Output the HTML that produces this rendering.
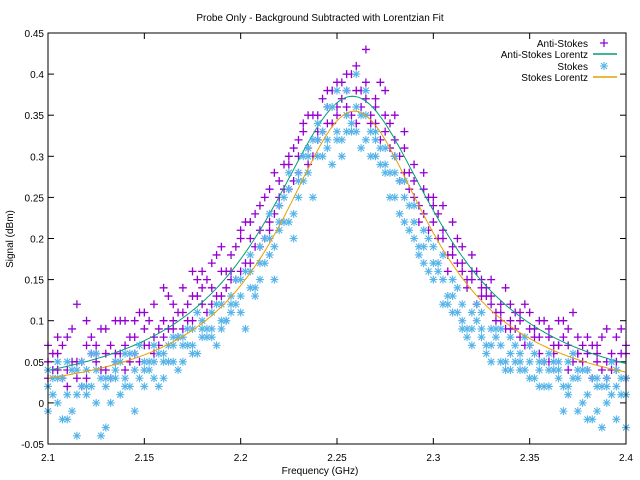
<!DOCTYPE html>
<html><head><meta charset="utf-8"><style>
body{margin:0;background:#fff}
svg{display:block;font-family:"Liberation Sans",sans-serif}
</style></head><body>
<svg id="chart" width="640" height="480" viewBox="0 0 640 480">
<text x="320" y="21" font-size="10" text-anchor="middle">Probe Only - Background Subtracted with Lorentzian Fit</text>
<text x="320" y="474" font-size="10" text-anchor="middle">Frequency (GHz)</text>
<text x="13" y="239" font-size="10" text-anchor="middle" transform="rotate(-90 13 239)">Signal (dBm)</text>
<g id="grid"></g>
<g id="marks"></g>
<rect x="48" y="33" width="578" height="411" fill="none" stroke="#000" stroke-width="1"/>
<g id="legend"></g>
</svg>
<script>
const xStart = 2.1, xStep = 0.005, xHalf = 0.0025;
const xTicks = [2.1,2.15,2.2,2.25,2.3,2.35,2.4];
const xTickLabels = ["2.1","2.15","2.2","2.25","2.3","2.35","2.4"];
const yTicks = [-0.05,0,0.05,0.1,0.15,0.2,0.25,0.3,0.35,0.4,0.45];
const yTickLabels = ["-0.05","0","0.05","0.1","0.15","0.2","0.25","0.3","0.35","0.4","0.45"];
const antiA = [.05,.08,.04,.12,.07,.05,.09,.06,.10,.08,.09,.12,.10,.09,.14,.13,.16,.12,.16,.18,.20,.17,.24,.22,.27,.30,.28,.35,.32,.38,.36,.40,.38,.43,.37,.33,.35,.31,.27,.26,.22,.24,.19,.17,.18,.15,.13,.12,.10,.11,.09,.10,.08,.07,.09,.06,.08,.06,.09,.05,.07];
const antiB = [.03,.04,.02,.05,.03,.06,.04,.05,.04,.06,.07,.06,.08,.10,.09,.10,.12,.14,.13,.15,.16,.20,.19,.21,.25,.26,.30,.29,.33,.34,.35,.36,.34,.37,.34,.35,.30,.28,.25,.23,.24,.20,.18,.16,.15,.13,.12,.11,.09,.08,.07,.06,.05,.07,.04,.06,.04,.05,.03,.04,.03];
const antiC = [.07,.06,.08,.03,.10,.07,.06,.10,.07,.10,.11,.08,.14,.12,.11,.16,.14,.17,.19,.16,.21,.22,.21,.26,.24,.29,.32,.31,.35,.36,.39,.38,.41,.39,.36,.38,.32,.33,.29,.28,.25,.21,.22,.19,.16,.14,.15,.10,.12,.10,.11,.08,.09,.10,.07,.08,.06,.07,.05,.08,.06];
const antiD = [.06,.03,.09,.05,.08,.04,.07,.10,.05,.11,.07,.09,.13,.08,.12,.15,.11,.18,.14,.19,.17,.23,.20,.28,.26,.31,.33,.30,.37,.34,.39,.35,.38,.34,.39,.31,.30,.28,.24,.21,.23,.18,.20,.14,.16,.13,.11,.14,.09,.12,.08,.10,.06,.08,.11,.05,.07,.04,.06,.09];
const antiE = [.04,.07,.05,.02,.06,.09,.03,.06,.08,.05,.10,.07,.09,.11,.10,.13,.15,.13,.16,.15,.22,.19,.25,.23,.29,.27,.34,.35,.33,.38,.37,.40,.36,.35,.32,.34,.27,.26,.22,.25,.20,.16,.17,.15,.12,.14,.10,.09,.11,.07,.09,.05,.07,.10,.05,.07,.03,.08,.04,.06];
const stokesA = [.04,.00,.05,-.04,.02,.06,.03,.05,.02,.06,.04,.07,.05,.08,.07,.09,.10,.09,.12,.13,.15,.16,.19,.20,.24,.26,.28,.31,.32,.36,.33,.38,.40,.35,.32,.31,.28,.25,.22,.19,.17,.15,.13,.10,.09,.11,.07,.09,.06,.05,.07,.04,.06,.03,.05,-.01,.04,.02,.03,-.02,.01];
const stokesB = [-.01,.03,-.02,.01,.04,.00,.02,.04,.03,-.01,.05,.03,.06,.05,.08,.07,.08,.11,.10,.11,.13,.14,.17,.18,.21,.22,.27,.28,.30,.32,.32,.35,.33,.32,.30,.28,.25,.22,.20,.17,.15,.12,.11,.12,.07,.09,.05,.07,.04,.06,.03,.05,.02,.04,.01,.03,-.02,.03,.00,.02,.03];
const stokesC = [.02,.05,.01,.04,.01,.04,-.03,.03,.06,.04,.02,.05,.03,.07,.05,.06,.09,.08,.09,.12,.11,.18,.15,.23,.22,.28,.25,.30,.34,.31,.38,.33,.36,.38,.33,.29,.30,.27,.24,.21,.19,.18,.15,.09,.11,.08,.09,.05,.08,.04,.05,.02,.04,.05,.02,.04,.01,-.01,.02,.04,-.03];
const stokesD = [.01,.03,-.01,.05,.02,-.04,.03,.01,.06,.03,.05,.02,.07,.04,.09,.06,.08,.07,.10,.12,.09,.14,.17,.15,.22,.20,.27,.25,.30,.29,.32,.34,.31,.33,.29,.25,.27,.21,.18,.20,.16,.13,.14,.09,.10,.06,.08,.05,.07,.04,.06,.02,.05,-.01,.03,.04,-.02,.02,.05,.01];
const stokesE = [.03,-.02,.04,.02,.06,.03,.00,.05,.02,.07,.04,.06,.05,.08,.07,.11,.09,.12,.10,.15,.16,.13,.20,.19,.25,.23,.30,.32,.33,.36,.30,.33,.35,.30,.31,.28,.23,.24,.19,.16,.17,.12,.11,.08,.12,.07,.09,.04,.05,.08,.03,.05,.04,.02,.06,.00,.03,-.03,.01,.03];
// Lorentzian fit parameters: [amplitude, center, half-width]
const antiFit = [0.373, 2.258, 0.0545];
const stokesFit = [0.355, 2.259, 0.0484];

const NS = "http://www.w3.org/2000/svg";
const X0=48,X1=626,Y0=444,Y1=33;
const xs = v => X0 + (v-2.1)/(0.3)*(X1-X0);
const ys = v => Y0 - (v+0.05)/(0.5)*(Y0-Y1);
function mk(tag, attrs, parent){const e=document.createElementNS(NS,tag);for(const k in attrs)e.setAttribute(k,attrs[k]);parent.appendChild(e);return e;}
const grid=document.getElementById('grid'), marks=document.getElementById('marks'), legend=document.getElementById('legend');
xTicks.forEach((t,i)=>{
  const x=xs(t);
  const l1=mk('line',{x1:x,y1:Y0,x2:x,y2:Y0-6,stroke:'#000'},grid);
  
  
  const l2=mk('line',{x1:x,y1:Y1,x2:x,y2:Y1+6,stroke:'#000'},grid);
  
  
  const tx=mk('text',{x:x,y:Y0+17,'font-size':10,'text-anchor':'middle'},grid);
  tx.textContent=xTickLabels[i];
  
  
});
yTicks.forEach((t,i)=>{
  const y=ys(t);
  const l1=mk('line',{x1:X0,y1:y,x2:X0+6,y2:y,stroke:'#000'},grid);
  
  
  const l2=mk('line',{x1:X1,y1:y,x2:X1-6,y2:y,stroke:'#000'},grid);
  
  
  const tx=mk('text',{x:X0-4,y:y+4,'font-size':10,'text-anchor':'end'},grid);
  tx.textContent=yTickLabels[i];
  
  
});
const PUR='#9400d3', BLU='#56b4e9', GRN='#009e73', ORG='#e69f00';
function plus(x,y,parent){
  const g=mk('path',{d:`M${x-4},${y}H${x+4}M${x},${y-4}V${y+4}`,stroke:PUR,'stroke-width':1.3,fill:'none'},parent);
  
  
}
function star(x,y,parent){
  const g=mk('path',{d:`M${x-4},${y}H${x+4}M${x},${y-4}V${y+4}M${x-3},${y-3}L${x+3},${y+3}M${x-3},${y+3}L${x+3},${y-3}`,stroke:BLU,'stroke-width':1.1,fill:'none'},parent);
  
  
}
function fitPath(p){
  let d='';
  for(let k=0;k<=300;k++){const f=2.1+k*0.001;const v=p[0]/(1+Math.pow((f-p[1])/p[2],2));d+=(k?'L':'M')+xs(f).toFixed(1)+','+ys(v).toFixed(1);}
  return d;
}
[antiA,antiB,antiC].forEach(arr=>arr.forEach((v,i)=>plus(xs(xStart+i*xStep),ys(v),marks)));
[antiD,antiE].forEach(arr=>arr.forEach((v,i)=>plus(xs(xStart+xHalf+i*xStep),ys(v),marks)));
const af=mk('path',{d:fitPath(antiFit),stroke:GRN,'stroke-width':1,fill:'none'},marks);


[stokesA,stokesB,stokesC].forEach(arr=>arr.forEach((v,i)=>star(xs(xStart+i*xStep),ys(v),marks)));
[stokesD,stokesE].forEach(arr=>arr.forEach((v,i)=>star(xs(xStart+xHalf+i*xStep),ys(v),marks)));
const sf=mk('path',{d:fitPath(stokesFit),stroke:ORG,'stroke-width':1,fill:'none'},marks);


const legItems=[['Anti-Stokes','p'],['Anti-Stokes Lorentz','lg'],['Stokes','s'],['Stokes Lorentz','lo']];
const legY=[43,54,66,77];
legItems.forEach((it,i)=>{
  const g=mk('g',{},legend);
  
  
  const t=mk('text',{x:588,y:legY[i]+4,'font-size':10,'text-anchor':'end'},g);
  t.textContent=it[0];
  if(it[1]==='p')plus(604,legY[i],g);
  else if(it[1]==='s')star(604,legY[i],g);
  else mk('line',{x1:593,y1:legY[i],x2:617,y2:legY[i],stroke:it[1]==='lg'?GRN:ORG,'stroke-width':1.5},g);
});
</script>
</body></html>
